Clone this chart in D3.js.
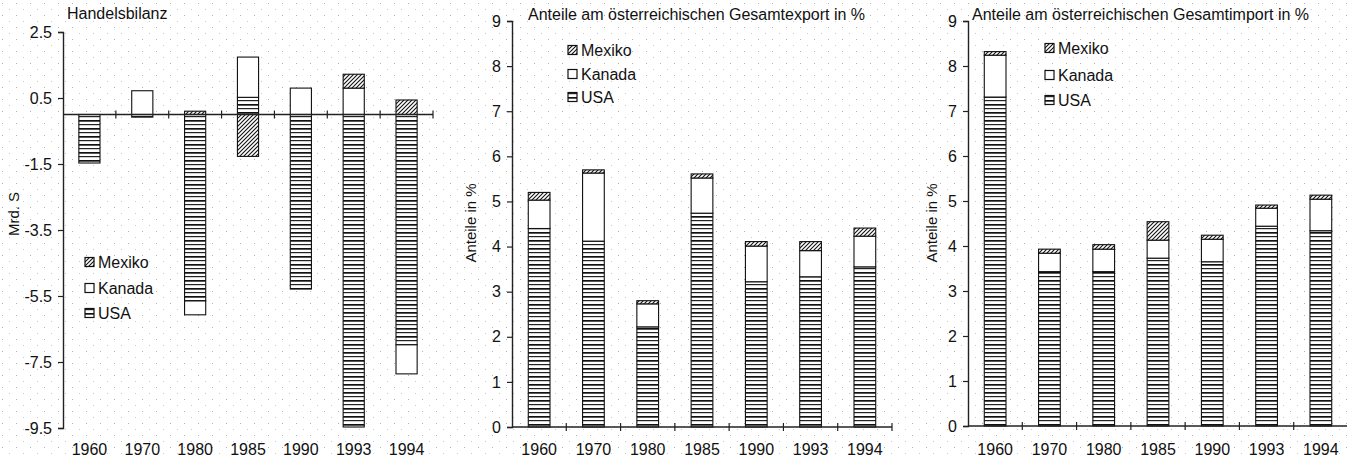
<!DOCTYPE html>
<html>
<head>
<meta charset="utf-8">
<script src="https://cdn.jsdelivr.net/npm/d3@7"></script>
<style>
  html, body { margin: 0; padding: 0; background: #fff; }
  svg { display: block; font-family: "Liberation Sans", Arial, sans-serif; }
</style>
</head>
<body>
<svg id="chart" width="1347" height="459"></svg>
<script>
// ---------- data ----------
const years = ["1960", "1970", "1980", "1985", "1990", "1993", "1994"];
const seriesNames = ["USA", "Kanada", "Mexiko"];
const legendOrder = ["Mexiko", "Kanada", "USA"];

// Handelsbilanz (Mrd. S)
const balUSA    = [-1.47, -0.08, -5.65, 0.52, -5.29, -9.47, -6.98];
const balKanada = [0, 0.72, -0.42, 1.22, 0.80, 0.80, -0.88];
const balMexiko = [0, 0, 0.10, -1.27, 0, 0.42, 0.44];
const balTicks  = [2.5, 0.5, -1.5, -3.5, -5.5, -7.5, -9.5];

// Anteile am Gesamtexport in %
const expUSA    = [4.40, 4.12, 2.22, 4.74, 3.22, 3.33, 3.55];
const expKanada = [0.63, 1.51, 0.51, 0.78, 0.79, 0.58, 0.68];
const expMexiko = [0.17, 0.07, 0.07, 0.09, 0.10, 0.20, 0.18];

// Anteile am Gesamtimport in %
const impUSA    = [7.31, 3.43, 3.43, 3.73, 3.65, 4.44, 4.34];
const impKanada = [0.93, 0.41, 0.50, 0.40, 0.50, 0.40, 0.70];
const impMexiko = [0.08, 0.09, 0.10, 0.41, 0.09, 0.07, 0.09];
const pctTicks  = [0, 1, 2, 3, 4, 5, 6, 7, 8, 9];

const titles = ["Handelsbilanz",
  "Anteile am österreichischen Gesamtexport in %",
  "Anteile am österreichischen Gesamtimport in %"];
const yLabels = ["Mrd. S", "Anteile in %", "Anteile in %"];

// ---------- drawing ----------
const svg = d3.select("#chart");
const defs = svg.append("defs");

// background speckle (scan texture)
const bg = defs.append("pattern").attr("id", "speckle").attr("patternUnits", "userSpaceOnUse")
  .attr("width", 14).attr("height", 12);
bg.append("rect").attr("x", 2).attr("y", 3).attr("width", 1).attr("height", 1).attr("fill", "#b0b0b0");
bg.append("rect").attr("x", 9).attr("y", 9).attr("width", 1).attr("height", 1).attr("fill", "#c8c8c8");
svg.append("rect").attr("width", 1347).attr("height", 459).attr("fill", "#fff");
svg.append("rect").attr("width", 1347).attr("height", 459).attr("fill", "url(#speckle)");

// fill patterns
const pUSA = defs.append("pattern").attr("id", "pUSA").attr("patternUnits", "userSpaceOnUse")
  .attr("width", 8).attr("height", 8);
pUSA.append("rect").attr("width", 8).attr("height", 8).attr("fill", "#fff");
pUSA.append("rect").attr("y", 0).attr("width", 8).attr("height", 1.7).attr("fill", "#111");
pUSA.append("rect").attr("y", 4).attr("width", 8).attr("height", 1.2).attr("fill", "#222");

const pMex = defs.append("pattern").attr("id", "pMex").attr("patternUnits", "userSpaceOnUse")
  .attr("width", 4).attr("height", 4);
pMex.append("rect").attr("width", 4).attr("height", 4).attr("fill", "#fff");
pMex.append("path").attr("d", "M-1,1 l2,-2 M0,4 l4,-4 M3,5 l2,-2")
  .attr("stroke", "#111").attr("stroke-width", 1.1);

const fills = { USA: "url(#pUSA)", Kanada: "#fff", Mexiko: "url(#pMex)" };

function buildRows(u, k, m) {
  return years.map((y, i) => ({ year: y, USA: u[i], Kanada: k[i], Mexiko: m[i] }));
}

const panels = [
  { rows: buildRows(balUSA, balKanada, balMexiko), ticks: balTicks, domain: [-9.5, 2.5],
    x0: 63, x1: 433, yTop: 32, yBot: 428, fmt: d => d.toFixed(1), zero: 0,
    title: titles[0], titleX: 67, titleY: 19,
    yLabel: yLabels[0], yLabelX: 19, yLabelY: 214,
    legX: 85, legY: [262, 288, 313] },
  { rows: buildRows(expUSA, expKanada, expMexiko), ticks: pctTicks, domain: [0, 9],
    x0: 512, x1: 892, yTop: 21, yBot: 427, fmt: d3.format("d"), zero: 0,
    title: titles[1], titleX: 528, titleY: 20,
    yLabel: yLabels[1], yLabelX: 476, yLabelY: 223,
    legX: 568, legY: [50, 74, 97] },
  { rows: buildRows(impUSA, impKanada, impMexiko), ticks: pctTicks, domain: [0, 9],
    x0: 968, x1: 1348, yTop: 21, yBot: 426, fmt: d3.format("d"), zero: 0,
    title: titles[2], titleX: 972, titleY: 20,
    yLabel: yLabels[2], yLabelX: 937, yLabelY: 223,
    legX: 1045, legY: [48, 75, 100] }
];

const stack = d3.stack().keys(seriesNames).offset(d3.stackOffsetDiverging);

panels.forEach(p => {
  const g = svg.append("g");
  const x = d3.scaleBand().domain(years).range([p.x0, p.x1]).paddingInner(0.6).paddingOuter(0.3);
  const y = d3.scaleLinear().domain(p.domain).range([p.yBot, p.yTop]);

  // bars
  const layers = stack(p.rows);
  layers.forEach(layer => {
    g.append("g").selectAll("rect").data(layer).join("rect")
      .attr("x", d => x(d.data.year))
      .attr("width", x.bandwidth())
      .attr("y", d => y(Math.max(d[0], d[1])))
      .attr("height", d => Math.abs(y(d[0]) - y(d[1])))
      .attr("fill", fills[layer.key])
      .attr("stroke", "#111").attr("stroke-width", 1.1)
      .attr("display", d => d[0] === d[1] ? "none" : null);
  });

  // y axis
  const yAxis = d3.axisLeft(y).tickValues(p.ticks).tickFormat(p.fmt).tickSize(5).tickPadding(6);
  const ya = g.append("g").attr("transform", `translate(${p.x0},0)`).call(yAxis);
  ya.select(".domain").attr("stroke", "#222").attr("stroke-width", 1.4);
  ya.selectAll(".tick line").attr("stroke", "#222").attr("stroke-width", 1.2);
  ya.selectAll(".tick text").attr("font-size", 16).attr("fill", "#111")
    .attr("font-family", "'Liberation Sans', Arial, sans-serif");

  // x axis (zero line) with tick marks at band boundaries
  const yz = y(p.zero);
  g.append("line").attr("x1", p.x0).attr("x2", p.x1).attr("y1", yz).attr("y2", yz)
    .attr("stroke", "#222").attr("stroke-width", 1.4);
  const bounds = years.map(yr => x(yr) + x.bandwidth() / 2 + x.step() / 2);
  g.append("g").selectAll("line").data(bounds).join("line")
    .attr("x1", d => d).attr("x2", d => d)
    .attr("y1", yz - 4).attr("y2", yz + 4)
    .attr("stroke", "#222").attr("stroke-width", 1.2);

  // category labels
  g.append("g").selectAll("text").data(years).join("text")
    .attr("x", d => x(d) + x.bandwidth() / 2)
    .attr("y", 455)
    .attr("text-anchor", "middle")
    .attr("font-size", 16).attr("fill", "#111")
    .text(d => d);

  // title
  g.append("text").attr("x", p.titleX).attr("y", p.titleY)
    .attr("font-size", 16).attr("fill", "#111").text(p.title);

  // y label
  g.append("text")
    .attr("transform", `translate(${p.yLabelX},${p.yLabelY}) rotate(-90)`)
    .attr("text-anchor", "middle")
    .attr("font-size", 15).attr("fill", "#111").text(p.yLabel);

  // legend
  const leg = g.append("g").selectAll("g").data(legendOrder).join("g")
    .attr("transform", (d, i) => `translate(${p.legX},${p.legY[i]})`);
  leg.append("rect").attr("x", 0).attr("y", -4.5).attr("width", 9).attr("height", 9)
    .attr("fill", d => fills[d])
    .attr("stroke", "#111").attr("stroke-width", 1.2);
  leg.append("text").attr("x", 13).attr("y", 5.5)
    .attr("font-size", 16).attr("fill", "#111").text(d => d);
});
</script>
</body>
</html>
